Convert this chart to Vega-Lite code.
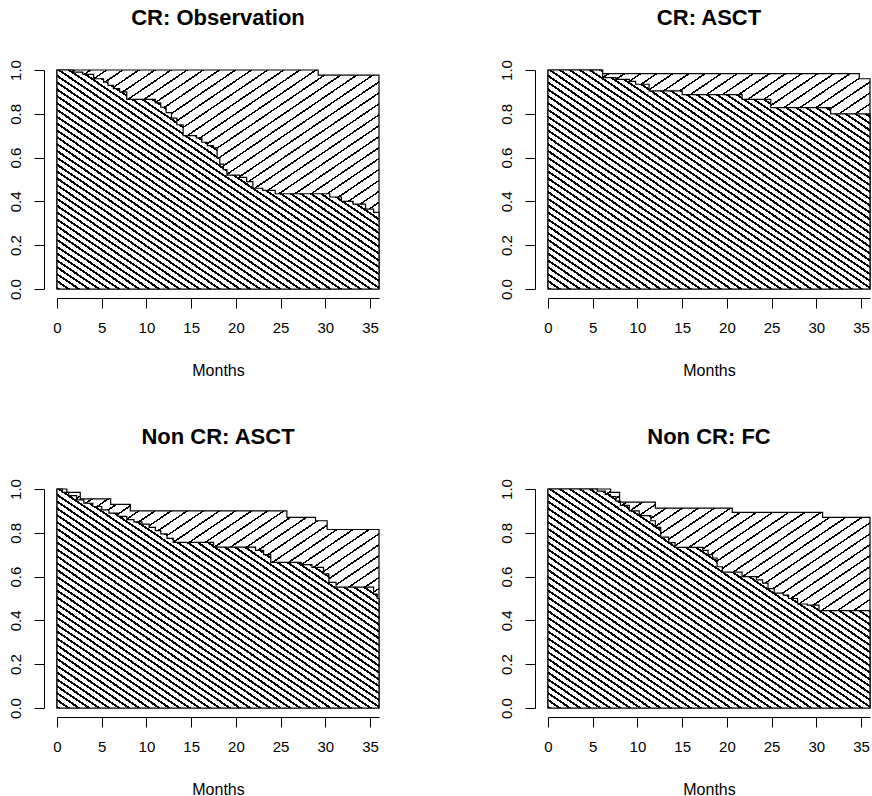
{
"$schema": "https://vega.github.io/schema/vega-lite/v6.json",
"background": "white",
"padding": {"left": 8, "top": 6, "right": 0, "bottom": 0},
"config": {
  "view": {"stroke": null},
  "font": "Liberation Sans",
  "axis": {"domainColor": "black", "tickColor": "black", "labelColor": "black", "titleColor": "black", "labelFont": "Liberation Sans", "titleFont": "Liberation Sans", "labelFontSize": 15, "titleFontSize": 16, "titleFontWeight": "normal", "tickSize": 10, "grid": false, "domainWidth": 1, "tickWidth": 1}
},
"data": {"values": [
{"p":"CR: Observation","c":"os","m":0,"s":1},{"p":"CR: Observation","c":"os","m":29.2,"s":0.977},{"p":"CR: Observation","c":"os","m":36,"s":0.977},
{"p":"CR: Observation","c":"pfs","m":0,"s":1},{"p":"CR: Observation","c":"pfs","m":1.8,"s":0.99},{"p":"CR: Observation","c":"pfs","m":2.9,"s":0.98},{"p":"CR: Observation","c":"pfs","m":4.1,"s":0.96},{"p":"CR: Observation","c":"pfs","m":5.2,"s":0.945},{"p":"CR: Observation","c":"pfs","m":5.7,"s":0.93},{"p":"CR: Observation","c":"pfs","m":6.3,"s":0.915},{"p":"CR: Observation","c":"pfs","m":7.0,"s":0.9},{"p":"CR: Observation","c":"pfs","m":7.8,"s":0.866},{"p":"CR: Observation","c":"pfs","m":11.0,"s":0.85},{"p":"CR: Observation","c":"pfs","m":11.6,"s":0.83},{"p":"CR: Observation","c":"pfs","m":12.2,"s":0.805},{"p":"CR: Observation","c":"pfs","m":12.8,"s":0.78},{"p":"CR: Observation","c":"pfs","m":13.4,"s":0.75},{"p":"CR: Observation","c":"pfs","m":14.1,"s":0.7},{"p":"CR: Observation","c":"pfs","m":15.6,"s":0.69},{"p":"CR: Observation","c":"pfs","m":16.2,"s":0.67},{"p":"CR: Observation","c":"pfs","m":16.8,"s":0.655},{"p":"CR: Observation","c":"pfs","m":17.5,"s":0.645},{"p":"CR: Observation","c":"pfs","m":17.9,"s":0.6},{"p":"CR: Observation","c":"pfs","m":18.2,"s":0.57},{"p":"CR: Observation","c":"pfs","m":18.6,"s":0.545},{"p":"CR: Observation","c":"pfs","m":19.0,"s":0.52},{"p":"CR: Observation","c":"pfs","m":20.4,"s":0.51},{"p":"CR: Observation","c":"pfs","m":21.2,"s":0.49},{"p":"CR: Observation","c":"pfs","m":21.9,"s":0.46},{"p":"CR: Observation","c":"pfs","m":23.0,"s":0.45},{"p":"CR: Observation","c":"pfs","m":24.4,"s":0.435},{"p":"CR: Observation","c":"pfs","m":30.5,"s":0.42},{"p":"CR: Observation","c":"pfs","m":31.8,"s":0.4},{"p":"CR: Observation","c":"pfs","m":33.1,"s":0.388},{"p":"CR: Observation","c":"pfs","m":34.5,"s":0.365},{"p":"CR: Observation","c":"pfs","m":35.4,"s":0.35},{"p":"CR: Observation","c":"pfs","m":36,"s":0.35},
{"p":"CR: ASCT","c":"os","m":0,"s":1},{"p":"CR: ASCT","c":"os","m":6.1,"s":0.983},{"p":"CR: ASCT","c":"os","m":34.8,"s":0.96},{"p":"CR: ASCT","c":"os","m":36,"s":0.96},
{"p":"CR: ASCT","c":"pfs","m":0,"s":1},{"p":"CR: ASCT","c":"pfs","m":6.1,"s":0.965},{"p":"CR: ASCT","c":"pfs","m":7.6,"s":0.957},{"p":"CR: ASCT","c":"pfs","m":9.1,"s":0.948},{"p":"CR: ASCT","c":"pfs","m":9.8,"s":0.935},{"p":"CR: ASCT","c":"pfs","m":11.3,"s":0.905},{"p":"CR: ASCT","c":"pfs","m":15.0,"s":0.888},{"p":"CR: ASCT","c":"pfs","m":21.7,"s":0.866},{"p":"CR: ASCT","c":"pfs","m":24.9,"s":0.828},{"p":"CR: ASCT","c":"pfs","m":31.6,"s":0.8},{"p":"CR: ASCT","c":"pfs","m":36,"s":0.8},
{"p":"Non CR: ASCT","c":"os","m":0,"s":1},{"p":"Non CR: ASCT","c":"os","m":1.1,"s":0.985},{"p":"Non CR: ASCT","c":"os","m":2.6,"s":0.955},{"p":"Non CR: ASCT","c":"os","m":6.0,"s":0.93},{"p":"Non CR: ASCT","c":"os","m":8.2,"s":0.9},{"p":"Non CR: ASCT","c":"os","m":25.7,"s":0.87},{"p":"Non CR: ASCT","c":"os","m":28.9,"s":0.855},{"p":"Non CR: ASCT","c":"os","m":30.2,"s":0.815},{"p":"Non CR: ASCT","c":"os","m":36,"s":0.815},
{"p":"Non CR: ASCT","c":"pfs","m":0,"s":1},{"p":"Non CR: ASCT","c":"pfs","m":0.6,"s":0.985},{"p":"Non CR: ASCT","c":"pfs","m":1.3,"s":0.97},{"p":"Non CR: ASCT","c":"pfs","m":2.2,"s":0.95},{"p":"Non CR: ASCT","c":"pfs","m":3.0,"s":0.935},{"p":"Non CR: ASCT","c":"pfs","m":4.0,"s":0.92},{"p":"Non CR: ASCT","c":"pfs","m":5.0,"s":0.905},{"p":"Non CR: ASCT","c":"pfs","m":5.8,"s":0.89},{"p":"Non CR: ASCT","c":"pfs","m":6.8,"s":0.875},{"p":"Non CR: ASCT","c":"pfs","m":7.8,"s":0.86},{"p":"Non CR: ASCT","c":"pfs","m":8.6,"s":0.85},{"p":"Non CR: ASCT","c":"pfs","m":9.5,"s":0.84},{"p":"Non CR: ASCT","c":"pfs","m":10.3,"s":0.825},{"p":"Non CR: ASCT","c":"pfs","m":11.0,"s":0.81},{"p":"Non CR: ASCT","c":"pfs","m":11.6,"s":0.795},{"p":"Non CR: ASCT","c":"pfs","m":12.3,"s":0.775},{"p":"Non CR: ASCT","c":"pfs","m":13.0,"s":0.756},{"p":"Non CR: ASCT","c":"pfs","m":17.5,"s":0.735},{"p":"Non CR: ASCT","c":"pfs","m":22.2,"s":0.72},{"p":"Non CR: ASCT","c":"pfs","m":23.1,"s":0.7},{"p":"Non CR: ASCT","c":"pfs","m":23.9,"s":0.665},{"p":"Non CR: ASCT","c":"pfs","m":27.3,"s":0.655},{"p":"Non CR: ASCT","c":"pfs","m":28.5,"s":0.642},{"p":"Non CR: ASCT","c":"pfs","m":29.8,"s":0.612},{"p":"Non CR: ASCT","c":"pfs","m":30.4,"s":0.574},{"p":"Non CR: ASCT","c":"pfs","m":31.2,"s":0.552},{"p":"Non CR: ASCT","c":"pfs","m":35.4,"s":0.52},{"p":"Non CR: ASCT","c":"pfs","m":35.8,"s":0.5},{"p":"Non CR: ASCT","c":"pfs","m":36,"s":0.5},
{"p":"Non CR: FC","c":"os","m":0,"s":1},{"p":"Non CR: FC","c":"os","m":7.0,"s":0.985},{"p":"Non CR: FC","c":"os","m":8.0,"s":0.94},{"p":"Non CR: FC","c":"os","m":12.0,"s":0.913},{"p":"Non CR: FC","c":"os","m":20.6,"s":0.893},{"p":"Non CR: FC","c":"os","m":30.7,"s":0.87},{"p":"Non CR: FC","c":"os","m":36,"s":0.87},
{"p":"Non CR: FC","c":"pfs","m":0,"s":1},{"p":"Non CR: FC","c":"pfs","m":5.5,"s":0.99},{"p":"Non CR: FC","c":"pfs","m":6.4,"s":0.975},{"p":"Non CR: FC","c":"pfs","m":7.0,"s":0.965},{"p":"Non CR: FC","c":"pfs","m":7.6,"s":0.945},{"p":"Non CR: FC","c":"pfs","m":8.1,"s":0.925},{"p":"Non CR: FC","c":"pfs","m":9.1,"s":0.9},{"p":"Non CR: FC","c":"pfs","m":10.2,"s":0.878},{"p":"Non CR: FC","c":"pfs","m":11.5,"s":0.855},{"p":"Non CR: FC","c":"pfs","m":12.0,"s":0.825},{"p":"Non CR: FC","c":"pfs","m":12.6,"s":0.78},{"p":"Non CR: FC","c":"pfs","m":13.5,"s":0.755},{"p":"Non CR: FC","c":"pfs","m":14.2,"s":0.733},{"p":"Non CR: FC","c":"pfs","m":17.3,"s":0.72},{"p":"Non CR: FC","c":"pfs","m":17.9,"s":0.7},{"p":"Non CR: FC","c":"pfs","m":18.4,"s":0.685},{"p":"Non CR: FC","c":"pfs","m":18.9,"s":0.645},{"p":"Non CR: FC","c":"pfs","m":19.5,"s":0.62},{"p":"Non CR: FC","c":"pfs","m":21.7,"s":0.6},{"p":"Non CR: FC","c":"pfs","m":23.3,"s":0.585},{"p":"Non CR: FC","c":"pfs","m":24.0,"s":0.57},{"p":"Non CR: FC","c":"pfs","m":24.6,"s":0.545},{"p":"Non CR: FC","c":"pfs","m":25.3,"s":0.525},{"p":"Non CR: FC","c":"pfs","m":26.3,"s":0.515},{"p":"Non CR: FC","c":"pfs","m":26.9,"s":0.5},{"p":"Non CR: FC","c":"pfs","m":27.9,"s":0.475},{"p":"Non CR: FC","c":"pfs","m":29.0,"s":0.47},{"p":"Non CR: FC","c":"pfs","m":30.3,"s":0.445},{"p":"Non CR: FC","c":"pfs","m":36,"s":0.445}
]},
"facet": {"field": "p", "type": "nominal", "sort": ["CR: Observation", "CR: ASCT", "Non CR: ASCT", "Non CR: FC"], "title": null,
  "header": {"labelFontSize": 22, "labelFontWeight": "bold", "labelFont": "Liberation Sans", "labelColor": "black", "labelPadding": 30}},
"columns": 2,
"spacing": {"column": 169, "row": 200},
"bounds": "flush",
"resolve": {"axis": {"x": "independent", "y": "independent"}},
"spec": {
  "width": 322,
  "height": 219,
  "encoding": {
    "x": {"field": "m", "type": "quantitative", "scale": {"domain": [0, 36], "nice": false, "zero": false},
      "axis": {"values": [0, 5, 10, 15, 20, 25, 30, 35], "title": "Months", "offset": 9, "labelPadding": 12, "titlePadding": 27, "labelFlush": false}},
    "y": {"field": "s", "type": "quantitative", "scale": {"domain": [0, 1], "nice": false},
      "axis": {"values": [0, 0.2, 0.4, 0.6, 0.8, 1], "format": ".1f", "title": null, "offset": 13, "labelAngle": 270, "labelAlign": "center", "labelBaseline": "bottom", "labelPadding": 11}}
  },
  "layer": [
    {"transform": [{"filter": "datum.c == 'os'"}],
     "mark": {"type": "area", "interpolate": "step-after", "stroke": "black", "strokeWidth": 1.2,
       "fill": {"gradient": "linear", "x1": 0, "y1": 0, "x2": 1, "y2": 1, "stops": [
{"offset":0,"color":"#000"},{"offset":0.00425,"color":"#000"},{"offset":0.00425,"color":"#fff"},{"offset":0.025,"color":"#fff"},
{"offset":0.025,"color":"#000"},{"offset":0.02925,"color":"#000"},{"offset":0.02925,"color":"#fff"},{"offset":0.05,"color":"#fff"},
{"offset":0.05,"color":"#000"},{"offset":0.05425,"color":"#000"},{"offset":0.05425,"color":"#fff"},{"offset":0.075,"color":"#fff"},
{"offset":0.075,"color":"#000"},{"offset":0.07925,"color":"#000"},{"offset":0.07925,"color":"#fff"},{"offset":0.1,"color":"#fff"},
{"offset":0.1,"color":"#000"},{"offset":0.10425,"color":"#000"},{"offset":0.10425,"color":"#fff"},{"offset":0.125,"color":"#fff"},
{"offset":0.125,"color":"#000"},{"offset":0.12925,"color":"#000"},{"offset":0.12925,"color":"#fff"},{"offset":0.15,"color":"#fff"},
{"offset":0.15,"color":"#000"},{"offset":0.15425,"color":"#000"},{"offset":0.15425,"color":"#fff"},{"offset":0.175,"color":"#fff"},
{"offset":0.175,"color":"#000"},{"offset":0.17925,"color":"#000"},{"offset":0.17925,"color":"#fff"},{"offset":0.2,"color":"#fff"},
{"offset":0.2,"color":"#000"},{"offset":0.20425,"color":"#000"},{"offset":0.20425,"color":"#fff"},{"offset":0.225,"color":"#fff"},
{"offset":0.225,"color":"#000"},{"offset":0.22925,"color":"#000"},{"offset":0.22925,"color":"#fff"},{"offset":0.25,"color":"#fff"},
{"offset":0.25,"color":"#000"},{"offset":0.25425,"color":"#000"},{"offset":0.25425,"color":"#fff"},{"offset":0.275,"color":"#fff"},
{"offset":0.275,"color":"#000"},{"offset":0.27925,"color":"#000"},{"offset":0.27925,"color":"#fff"},{"offset":0.3,"color":"#fff"},
{"offset":0.3,"color":"#000"},{"offset":0.30425,"color":"#000"},{"offset":0.30425,"color":"#fff"},{"offset":0.325,"color":"#fff"},
{"offset":0.325,"color":"#000"},{"offset":0.32925,"color":"#000"},{"offset":0.32925,"color":"#fff"},{"offset":0.35,"color":"#fff"},
{"offset":0.35,"color":"#000"},{"offset":0.35425,"color":"#000"},{"offset":0.35425,"color":"#fff"},{"offset":0.375,"color":"#fff"},
{"offset":0.375,"color":"#000"},{"offset":0.37925,"color":"#000"},{"offset":0.37925,"color":"#fff"},{"offset":0.4,"color":"#fff"},
{"offset":0.4,"color":"#000"},{"offset":0.40425,"color":"#000"},{"offset":0.40425,"color":"#fff"},{"offset":0.425,"color":"#fff"},
{"offset":0.425,"color":"#000"},{"offset":0.42925,"color":"#000"},{"offset":0.42925,"color":"#fff"},{"offset":0.45,"color":"#fff"},
{"offset":0.45,"color":"#000"},{"offset":0.45425,"color":"#000"},{"offset":0.45425,"color":"#fff"},{"offset":0.475,"color":"#fff"},
{"offset":0.475,"color":"#000"},{"offset":0.47925,"color":"#000"},{"offset":0.47925,"color":"#fff"},{"offset":0.5,"color":"#fff"},
{"offset":0.5,"color":"#000"},{"offset":0.50425,"color":"#000"},{"offset":0.50425,"color":"#fff"},{"offset":0.525,"color":"#fff"},
{"offset":0.525,"color":"#000"},{"offset":0.52925,"color":"#000"},{"offset":0.52925,"color":"#fff"},{"offset":0.55,"color":"#fff"},
{"offset":0.55,"color":"#000"},{"offset":0.55425,"color":"#000"},{"offset":0.55425,"color":"#fff"},{"offset":0.575,"color":"#fff"},
{"offset":0.575,"color":"#000"},{"offset":0.57925,"color":"#000"},{"offset":0.57925,"color":"#fff"},{"offset":0.6,"color":"#fff"},
{"offset":0.6,"color":"#000"},{"offset":0.60425,"color":"#000"},{"offset":0.60425,"color":"#fff"},{"offset":0.625,"color":"#fff"},
{"offset":0.625,"color":"#000"},{"offset":0.62925,"color":"#000"},{"offset":0.62925,"color":"#fff"},{"offset":0.65,"color":"#fff"},
{"offset":0.65,"color":"#000"},{"offset":0.65425,"color":"#000"},{"offset":0.65425,"color":"#fff"},{"offset":0.675,"color":"#fff"},
{"offset":0.675,"color":"#000"},{"offset":0.67925,"color":"#000"},{"offset":0.67925,"color":"#fff"},{"offset":0.7,"color":"#fff"},
{"offset":0.7,"color":"#000"},{"offset":0.70425,"color":"#000"},{"offset":0.70425,"color":"#fff"},{"offset":0.725,"color":"#fff"},
{"offset":0.725,"color":"#000"},{"offset":0.72925,"color":"#000"},{"offset":0.72925,"color":"#fff"},{"offset":0.75,"color":"#fff"},
{"offset":0.75,"color":"#000"},{"offset":0.75425,"color":"#000"},{"offset":0.75425,"color":"#fff"},{"offset":0.775,"color":"#fff"},
{"offset":0.775,"color":"#000"},{"offset":0.77925,"color":"#000"},{"offset":0.77925,"color":"#fff"},{"offset":0.8,"color":"#fff"},
{"offset":0.8,"color":"#000"},{"offset":0.80425,"color":"#000"},{"offset":0.80425,"color":"#fff"},{"offset":0.825,"color":"#fff"},
{"offset":0.825,"color":"#000"},{"offset":0.82925,"color":"#000"},{"offset":0.82925,"color":"#fff"},{"offset":0.85,"color":"#fff"},
{"offset":0.85,"color":"#000"},{"offset":0.85425,"color":"#000"},{"offset":0.85425,"color":"#fff"},{"offset":0.875,"color":"#fff"},
{"offset":0.875,"color":"#000"},{"offset":0.87925,"color":"#000"},{"offset":0.87925,"color":"#fff"},{"offset":0.9,"color":"#fff"},
{"offset":0.9,"color":"#000"},{"offset":0.90425,"color":"#000"},{"offset":0.90425,"color":"#fff"},{"offset":0.925,"color":"#fff"},
{"offset":0.925,"color":"#000"},{"offset":0.92925,"color":"#000"},{"offset":0.92925,"color":"#fff"},{"offset":0.95,"color":"#fff"},
{"offset":0.95,"color":"#000"},{"offset":0.95425,"color":"#000"},{"offset":0.95425,"color":"#fff"},{"offset":0.975,"color":"#fff"},
{"offset":0.975,"color":"#000"},{"offset":0.97925,"color":"#000"},{"offset":0.97925,"color":"#fff"},{"offset":1,"color":"#fff"}
       ]}}},
    {"transform": [{"filter": "datum.c == 'pfs'"}],
     "mark": {"type": "area", "interpolate": "step-after", "stroke": "black", "strokeWidth": 1.2,
       "fill": {"gradient": "linear", "x1": 0, "y1": 1, "x2": 1, "y2": 0, "stops": [
{"offset":0,"color":"#000"},{"offset":0.00547,"color":"#000"},{"offset":0.00547,"color":"#fff"},{"offset":0.01563,"color":"#fff"},
{"offset":0.01563,"color":"#000"},{"offset":0.02109,"color":"#000"},{"offset":0.02109,"color":"#fff"},{"offset":0.03125,"color":"#fff"},
{"offset":0.03125,"color":"#000"},{"offset":0.03672,"color":"#000"},{"offset":0.03672,"color":"#fff"},{"offset":0.04688,"color":"#fff"},
{"offset":0.04688,"color":"#000"},{"offset":0.05234,"color":"#000"},{"offset":0.05234,"color":"#fff"},{"offset":0.0625,"color":"#fff"},
{"offset":0.0625,"color":"#000"},{"offset":0.06797,"color":"#000"},{"offset":0.06797,"color":"#fff"},{"offset":0.07813,"color":"#fff"},
{"offset":0.07813,"color":"#000"},{"offset":0.08359,"color":"#000"},{"offset":0.08359,"color":"#fff"},{"offset":0.09375,"color":"#fff"},
{"offset":0.09375,"color":"#000"},{"offset":0.09922,"color":"#000"},{"offset":0.09922,"color":"#fff"},{"offset":0.10938,"color":"#fff"},
{"offset":0.10938,"color":"#000"},{"offset":0.11484,"color":"#000"},{"offset":0.11484,"color":"#fff"},{"offset":0.125,"color":"#fff"},
{"offset":0.125,"color":"#000"},{"offset":0.13047,"color":"#000"},{"offset":0.13047,"color":"#fff"},{"offset":0.14063,"color":"#fff"},
{"offset":0.14063,"color":"#000"},{"offset":0.14609,"color":"#000"},{"offset":0.14609,"color":"#fff"},{"offset":0.15625,"color":"#fff"},
{"offset":0.15625,"color":"#000"},{"offset":0.16172,"color":"#000"},{"offset":0.16172,"color":"#fff"},{"offset":0.17188,"color":"#fff"},
{"offset":0.17188,"color":"#000"},{"offset":0.17734,"color":"#000"},{"offset":0.17734,"color":"#fff"},{"offset":0.1875,"color":"#fff"},
{"offset":0.1875,"color":"#000"},{"offset":0.19297,"color":"#000"},{"offset":0.19297,"color":"#fff"},{"offset":0.20313,"color":"#fff"},
{"offset":0.20313,"color":"#000"},{"offset":0.20859,"color":"#000"},{"offset":0.20859,"color":"#fff"},{"offset":0.21875,"color":"#fff"},
{"offset":0.21875,"color":"#000"},{"offset":0.22422,"color":"#000"},{"offset":0.22422,"color":"#fff"},{"offset":0.23438,"color":"#fff"},
{"offset":0.23438,"color":"#000"},{"offset":0.23984,"color":"#000"},{"offset":0.23984,"color":"#fff"},{"offset":0.25,"color":"#fff"},
{"offset":0.25,"color":"#000"},{"offset":0.25547,"color":"#000"},{"offset":0.25547,"color":"#fff"},{"offset":0.26563,"color":"#fff"},
{"offset":0.26563,"color":"#000"},{"offset":0.27109,"color":"#000"},{"offset":0.27109,"color":"#fff"},{"offset":0.28125,"color":"#fff"},
{"offset":0.28125,"color":"#000"},{"offset":0.28672,"color":"#000"},{"offset":0.28672,"color":"#fff"},{"offset":0.29688,"color":"#fff"},
{"offset":0.29688,"color":"#000"},{"offset":0.30234,"color":"#000"},{"offset":0.30234,"color":"#fff"},{"offset":0.3125,"color":"#fff"},
{"offset":0.3125,"color":"#000"},{"offset":0.31797,"color":"#000"},{"offset":0.31797,"color":"#fff"},{"offset":0.32813,"color":"#fff"},
{"offset":0.32813,"color":"#000"},{"offset":0.33359,"color":"#000"},{"offset":0.33359,"color":"#fff"},{"offset":0.34375,"color":"#fff"},
{"offset":0.34375,"color":"#000"},{"offset":0.34922,"color":"#000"},{"offset":0.34922,"color":"#fff"},{"offset":0.35938,"color":"#fff"},
{"offset":0.35938,"color":"#000"},{"offset":0.36484,"color":"#000"},{"offset":0.36484,"color":"#fff"},{"offset":0.375,"color":"#fff"},
{"offset":0.375,"color":"#000"},{"offset":0.38047,"color":"#000"},{"offset":0.38047,"color":"#fff"},{"offset":0.39063,"color":"#fff"},
{"offset":0.39063,"color":"#000"},{"offset":0.39609,"color":"#000"},{"offset":0.39609,"color":"#fff"},{"offset":0.40625,"color":"#fff"},
{"offset":0.40625,"color":"#000"},{"offset":0.41172,"color":"#000"},{"offset":0.41172,"color":"#fff"},{"offset":0.42188,"color":"#fff"},
{"offset":0.42188,"color":"#000"},{"offset":0.42734,"color":"#000"},{"offset":0.42734,"color":"#fff"},{"offset":0.4375,"color":"#fff"},
{"offset":0.4375,"color":"#000"},{"offset":0.44297,"color":"#000"},{"offset":0.44297,"color":"#fff"},{"offset":0.45313,"color":"#fff"},
{"offset":0.45313,"color":"#000"},{"offset":0.45859,"color":"#000"},{"offset":0.45859,"color":"#fff"},{"offset":0.46875,"color":"#fff"},
{"offset":0.46875,"color":"#000"},{"offset":0.47422,"color":"#000"},{"offset":0.47422,"color":"#fff"},{"offset":0.48438,"color":"#fff"},
{"offset":0.48438,"color":"#000"},{"offset":0.48984,"color":"#000"},{"offset":0.48984,"color":"#fff"},{"offset":0.5,"color":"#fff"},
{"offset":0.5,"color":"#000"},{"offset":0.50547,"color":"#000"},{"offset":0.50547,"color":"#fff"},{"offset":0.51563,"color":"#fff"},
{"offset":0.51563,"color":"#000"},{"offset":0.52109,"color":"#000"},{"offset":0.52109,"color":"#fff"},{"offset":0.53125,"color":"#fff"},
{"offset":0.53125,"color":"#000"},{"offset":0.53672,"color":"#000"},{"offset":0.53672,"color":"#fff"},{"offset":0.54688,"color":"#fff"},
{"offset":0.54688,"color":"#000"},{"offset":0.55234,"color":"#000"},{"offset":0.55234,"color":"#fff"},{"offset":0.5625,"color":"#fff"},
{"offset":0.5625,"color":"#000"},{"offset":0.56797,"color":"#000"},{"offset":0.56797,"color":"#fff"},{"offset":0.57813,"color":"#fff"},
{"offset":0.57813,"color":"#000"},{"offset":0.58359,"color":"#000"},{"offset":0.58359,"color":"#fff"},{"offset":0.59375,"color":"#fff"},
{"offset":0.59375,"color":"#000"},{"offset":0.59922,"color":"#000"},{"offset":0.59922,"color":"#fff"},{"offset":0.60938,"color":"#fff"},
{"offset":0.60938,"color":"#000"},{"offset":0.61484,"color":"#000"},{"offset":0.61484,"color":"#fff"},{"offset":0.625,"color":"#fff"},
{"offset":0.625,"color":"#000"},{"offset":0.63047,"color":"#000"},{"offset":0.63047,"color":"#fff"},{"offset":0.64063,"color":"#fff"},
{"offset":0.64063,"color":"#000"},{"offset":0.64609,"color":"#000"},{"offset":0.64609,"color":"#fff"},{"offset":0.65625,"color":"#fff"},
{"offset":0.65625,"color":"#000"},{"offset":0.66172,"color":"#000"},{"offset":0.66172,"color":"#fff"},{"offset":0.67188,"color":"#fff"},
{"offset":0.67188,"color":"#000"},{"offset":0.67734,"color":"#000"},{"offset":0.67734,"color":"#fff"},{"offset":0.6875,"color":"#fff"},
{"offset":0.6875,"color":"#000"},{"offset":0.69297,"color":"#000"},{"offset":0.69297,"color":"#fff"},{"offset":0.70313,"color":"#fff"},
{"offset":0.70313,"color":"#000"},{"offset":0.70859,"color":"#000"},{"offset":0.70859,"color":"#fff"},{"offset":0.71875,"color":"#fff"},
{"offset":0.71875,"color":"#000"},{"offset":0.72422,"color":"#000"},{"offset":0.72422,"color":"#fff"},{"offset":0.73438,"color":"#fff"},
{"offset":0.73438,"color":"#000"},{"offset":0.73984,"color":"#000"},{"offset":0.73984,"color":"#fff"},{"offset":0.75,"color":"#fff"},
{"offset":0.75,"color":"#000"},{"offset":0.75547,"color":"#000"},{"offset":0.75547,"color":"#fff"},{"offset":0.76563,"color":"#fff"},
{"offset":0.76563,"color":"#000"},{"offset":0.77109,"color":"#000"},{"offset":0.77109,"color":"#fff"},{"offset":0.78125,"color":"#fff"},
{"offset":0.78125,"color":"#000"},{"offset":0.78672,"color":"#000"},{"offset":0.78672,"color":"#fff"},{"offset":0.79688,"color":"#fff"},
{"offset":0.79688,"color":"#000"},{"offset":0.80234,"color":"#000"},{"offset":0.80234,"color":"#fff"},{"offset":0.8125,"color":"#fff"},
{"offset":0.8125,"color":"#000"},{"offset":0.81797,"color":"#000"},{"offset":0.81797,"color":"#fff"},{"offset":0.82813,"color":"#fff"},
{"offset":0.82813,"color":"#000"},{"offset":0.83359,"color":"#000"},{"offset":0.83359,"color":"#fff"},{"offset":0.84375,"color":"#fff"},
{"offset":0.84375,"color":"#000"},{"offset":0.84922,"color":"#000"},{"offset":0.84922,"color":"#fff"},{"offset":0.85938,"color":"#fff"},
{"offset":0.85938,"color":"#000"},{"offset":0.86484,"color":"#000"},{"offset":0.86484,"color":"#fff"},{"offset":0.875,"color":"#fff"},
{"offset":0.875,"color":"#000"},{"offset":0.88047,"color":"#000"},{"offset":0.88047,"color":"#fff"},{"offset":0.89063,"color":"#fff"},
{"offset":0.89063,"color":"#000"},{"offset":0.89609,"color":"#000"},{"offset":0.89609,"color":"#fff"},{"offset":0.90625,"color":"#fff"},
{"offset":0.90625,"color":"#000"},{"offset":0.91172,"color":"#000"},{"offset":0.91172,"color":"#fff"},{"offset":0.92188,"color":"#fff"},
{"offset":0.92188,"color":"#000"},{"offset":0.92734,"color":"#000"},{"offset":0.92734,"color":"#fff"},{"offset":0.9375,"color":"#fff"},
{"offset":0.9375,"color":"#000"},{"offset":0.94297,"color":"#000"},{"offset":0.94297,"color":"#fff"},{"offset":0.95313,"color":"#fff"},
{"offset":0.95313,"color":"#000"},{"offset":0.95859,"color":"#000"},{"offset":0.95859,"color":"#fff"},{"offset":0.96875,"color":"#fff"},
{"offset":0.96875,"color":"#000"},{"offset":0.97422,"color":"#000"},{"offset":0.97422,"color":"#fff"},{"offset":0.98438,"color":"#fff"},
{"offset":0.98438,"color":"#000"},{"offset":0.98984,"color":"#000"},{"offset":0.98984,"color":"#fff"},{"offset":1,"color":"#fff"}
       ]}}}
  ]
}
}
